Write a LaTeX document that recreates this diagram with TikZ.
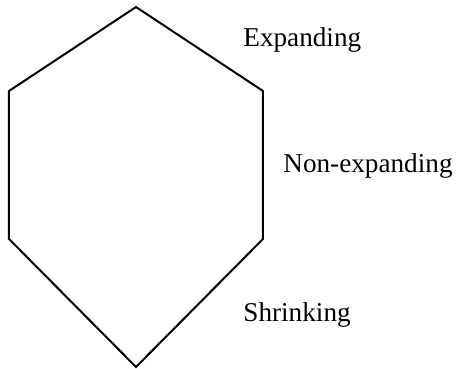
\documentclass[tikz,border=0pt]{standalone}
\usepackage{fontspec}
\setmainfont{Liberation Serif}
\tikzset{
    ecke/.style={coordinate},
    marke/.style={anchor=base west, inner sep=0pt, font=\fontsize{13.6}{16}\selectfont}
}
\begin{document}
\begin{tikzpicture}[x=0.5pt, y=-0.5pt]
    \useasboundingbox (0,0) rectangle (457,369);
    \path node[ecke] (T) at (136,7) {}
        node[ecke] (OR) at (263,91) {}
        node[ecke] (UR) at (263,239) {}
        node[ecke] (U) at (136,367) {}
        node[ecke] (UL) at (9,239) {}
        node[ecke] (OL) at (9,91) {};
    \draw[line width=1pt, line join=miter] (T) -- (OR) -- (UR) -- (U) -- (UL) -- (OL) -- cycle;
    \path node[marke] (exp) at (243,47) {Expanding}
        node[marke] (nonexp) at (283,173) {Non-expanding}
        node[marke] (shr) at (243,322) {Shrinking};
\end{tikzpicture}
\end{document}
